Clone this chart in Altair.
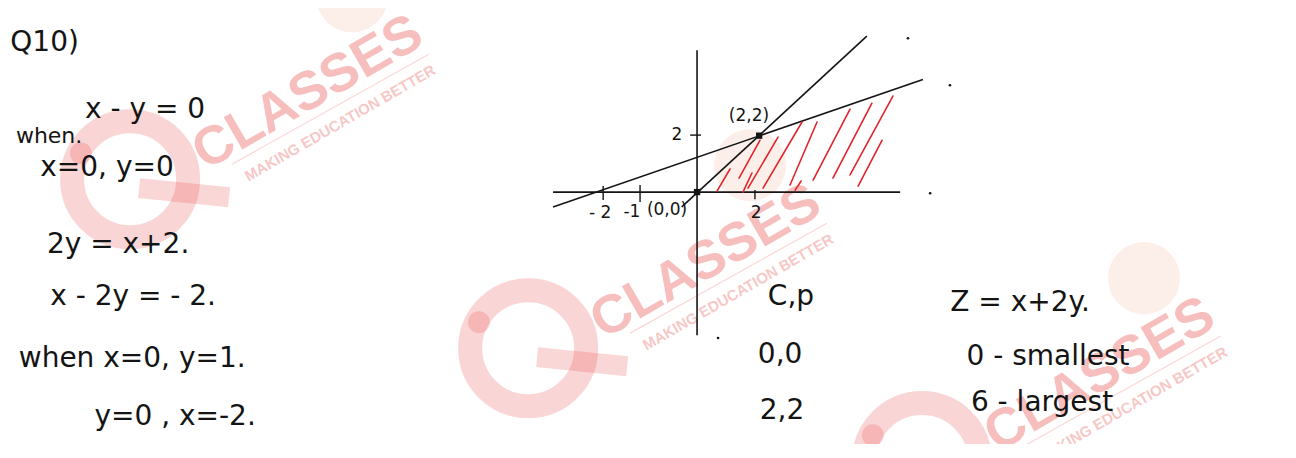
import altair as alt
import pandas as pd

# ---------------- frame of the sketch (graph units) ----------------
X_DOMAIN = [-22.97, 19.70]
Y_DOMAIN = [-8.84, 6.46]
W, H = 1280, 436

# axes and the two boundary lines (x - y = 0 and x - 2y = -2), as drawn
seg_x = [-4.80, 0.00, -0.51, -4.80]
seg_y = [0.00, 4.98, -0.52, -0.52]
seg_x2 = [6.77, 0.00, 5.66, 7.53]
seg_y2 = [0.00, -5.02, 5.47, 3.95]

# tick marks (-2, -1, 2 on x; 2 on y)
tick_x = [-3.13, -1.90, 1.93, -0.23]
tick_y = [0.21, 0.25, 0.07, 2.00]
tick_x2 = [-3.13, -1.90, 1.93, 0.13]
tick_y2 = [-0.28, -0.35, -0.25, 2.00]

# red hatching of the feasible region
hatch_x = [0.67, 1.40, 1.53, 1.70, 2.20, 3.10, 3.27, 3.87, 4.53, 5.10, 5.37]
hatch_y = [0.04, 0.49, 0.00, 0.14, 0.14, 0.25, 0.07, 0.42, 0.49, 0.60, 0.21]
hatch_x2 = [1.10, 2.10, 1.83, 2.70, 3.50, 4.00, 3.47, 5.10, 5.83, 6.53, 6.17]
hatch_y2 = [0.81, 1.82, 0.67, 1.93, 2.46, 2.46, 0.39, 2.91, 3.12, 3.37, 1.82]

# corner points and stray pen dots
corner_x = [0.00, 2.07]
corner_y = [0.00, 1.98]
dot_x = [7.03, 8.43, 7.77, 0.70]
dot_y = [5.40, 3.75, -0.04, -5.12]

# small labels on the graph
glabel = ["(2,2)", "2", "- 2", "-1", "(0,0)", "2"]
glabel_x = [1.73, -0.67, -3.23, -2.17, -1.00, 1.97]
glabel_y = [2.67, 2.00, -0.74, -0.70, -0.63, -0.74]

# handwritten working
main_text = ["Q10)", "x - y = 0", "x=0, y=0", "2y = x+2.", "x - 2y = - 2.",
             "when x=0, y=1.", "y=0 , x=-2.",
             "C,p", "0,0", "2,2", "Z = x+2y.", "0 - smallest", "6  - largest"]
main_x = [-21.75, -18.40, -19.67, -19.30, -18.80, -18.83, -17.40,
          3.13, 2.77, 2.83, 10.77, 11.70, 11.50]
main_y = [5.23, 2.88, 0.84, -1.86, -3.68, -5.86, -7.89,
          -3.68, -5.72, -7.68, -3.89, -5.79, -7.40]
small_text = ["when."]
small_x = [-21.60]
small_y = [1.96]

# watermark ("CLASSES" logo) placements
wm_word = ["CLASSES", "CLASSES", "CLASSES"]
wm_sub = ["MAKING EDUCATION BETTER"] * 3
wm_text_x = [-12.97, 0.30, 13.43]
wm_text_y = [3.47, -2.46, -6.42]
wm_sub_x = [-11.90, 1.37, 14.50]
wm_sub_y = [2.42, -3.51, -7.47]
wm_ring_x = [-18.90, -5.63, 7.50]
wm_ring_y = [0.45, -5.48, -9.44]
wm_dot_x = [-20.54, -7.27, 5.86]
wm_dot_y = [1.36, -4.57, -8.53]
wm_tail_x = [-18.60, -5.33, 7.80]
wm_tail_y = [0.14, -5.79, -9.75]
wm_tail_x2 = [-15.60, -2.33, 10.80]
wm_tail_y2 = [-0.18, -6.11, -10.07]
wm_line_x = [-15.50, -2.23, 10.90]
wm_line_y = [0.98, -4.95, -8.91]
wm_line_x2 = [-8.94, 4.33, 17.46]
wm_line_y2 = [4.84, -1.09, -5.05]
wm_head_x = [-11.50, 1.77, 14.90]
wm_head_y = [6.87, 0.94, -3.02]

# ---------------- build ----------------
xs = alt.Scale(domain=X_DOMAIN, nice=False, zero=False)
ys = alt.Scale(domain=Y_DOMAIN, nice=False, zero=False)


def xy(xf="x", yf="y"):
    return dict(
        x=alt.X(xf, type="quantitative", scale=xs, axis=None),
        y=alt.Y(yf, type="quantitative", scale=ys, axis=None),
    )


def segs(x, y, x2, y2):
    return pd.DataFrame({"x": x, "y": y, "x2": x2, "y2": y2})


def pts(x, y, label=None):
    d = {"x": x, "y": y}
    if label is not None:
        d["label"] = label
    return pd.DataFrame(d)


WM = "#e53935"
INK = "#141414"

wm_ring = alt.Chart(pts(wm_ring_x, wm_ring_y)).mark_point(
    shape="circle", filled=False, size=13456, strokeWidth=24, color=WM, opacity=0.2
).encode(**xy())
wm_dot = alt.Chart(pts(wm_dot_x, wm_dot_y)).mark_point(
    shape="circle", filled=True, size=480, color=WM, opacity=0.2
).encode(**xy())
wm_tail = alt.Chart(segs(wm_tail_x, wm_tail_y, wm_tail_x2, wm_tail_y2)).mark_rule(
    strokeWidth=20, color=WM, opacity=0.2
).encode(**xy(), x2="x2", y2="y2")
wm_head = alt.Chart(pts(wm_head_x, wm_head_y)).mark_point(
    shape="circle", filled=True, size=5200, color="#f3b49a", opacity=0.22
).encode(**xy())
wm_line = alt.Chart(segs(wm_line_x, wm_line_y, wm_line_x2, wm_line_y2)).mark_rule(
    strokeWidth=1.2, color=WM, opacity=0.2
).encode(**xy(), x2="x2", y2="y2")
wm_big = alt.Chart(pts(wm_text_x, wm_text_y, wm_word)).mark_text(
    font="Liberation Sans", fontWeight="bold", fontSize=54, angle=330,
    align="center", baseline="middle", color=WM, opacity=0.32
).encode(**xy(), text="label:N")
wm_small = alt.Chart(pts(wm_sub_x, wm_sub_y, wm_sub)).mark_text(
    font="Liberation Sans", fontWeight="bold", fontSize=15, angle=330,
    align="center", baseline="middle", color=WM, opacity=0.28
).encode(**xy(), text="label:N")

lines = alt.Chart(segs(seg_x, seg_y, seg_x2, seg_y2)).mark_rule(
    strokeWidth=1.6, color=INK
).encode(**xy(), x2="x2", y2="y2")
ticks = alt.Chart(segs(tick_x, tick_y, tick_x2, tick_y2)).mark_rule(
    strokeWidth=1.4, color=INK
).encode(**xy(), x2="x2", y2="y2")
hatch = alt.Chart(segs(hatch_x, hatch_y, hatch_x2, hatch_y2)).mark_rule(
    strokeWidth=1.6, color="#e0252d", strokeCap="round"
).encode(**xy(), x2="x2", y2="y2")
corners = alt.Chart(pts(corner_x, corner_y)).mark_point(
    shape="square", filled=True, size=40, color=INK, opacity=1
).encode(**xy())
dots = alt.Chart(pts(dot_x, dot_y)).mark_point(
    shape="circle", filled=True, size=7, color=INK, opacity=1
).encode(**xy())
glabels = alt.Chart(pts(glabel_x, glabel_y, glabel)).mark_text(
    font="DejaVu Sans", fontSize=17, align="center", baseline="middle", color=INK
).encode(**xy(), text="label:N")
texts = alt.Chart(pts(main_x, main_y, main_text)).mark_text(
    font="DejaVu Sans", fontSize=28, align="center", baseline="middle", color=INK
).encode(**xy(), text="label:N")
stexts = alt.Chart(pts(small_x, small_y, small_text)).mark_text(
    font="DejaVu Sans", fontSize=22, align="center", baseline="middle", color=INK
).encode(**xy(), text="label:N")

chart = alt.layer(
    wm_ring, wm_dot, wm_tail, wm_head, wm_line, wm_big, wm_small,
    lines, ticks, hatch, corners, dots, glabels, texts, stexts
).properties(
    width=W, height=H, padding=0,
    autosize=alt.AutoSizeParams(type="none"),
    background="white",
).configure_view(stroke=None)

chart.save("out.html", embed_options={"renderer": "svg", "actions": False})
